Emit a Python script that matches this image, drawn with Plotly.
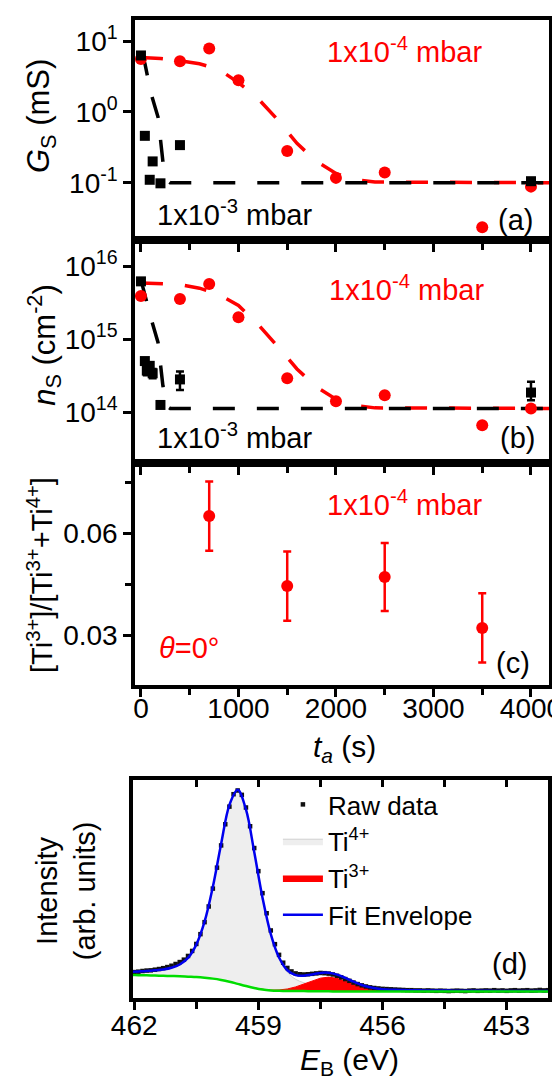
import plotly.graph_objects as go

FONT = "Liberation Sans, Arial, sans-serif"
RED = "#ff0000"

# ---- (a) sheet conductance G_S (mS) vs anneal time
t_hi = [0, 400, 700, 1000, 1500, 2000, 2500, 3500, 4000]          # 1x10^-4 mbar
gs_hi = [5.6, 5.2, 7.9, 2.8, 0.28, 0.117, 0.139, 0.0235, 0.088]
t_lo_a = [0, 40, 90, 120, 200, 400, 4000]                          # 1x10^-3 mbar
gs_lo = [6.3, 0.46, 0.11, 0.2, 0.098, 0.34, 0.105]
t_fit_hi = [0, 200, 400, 600, 800, 1000, 1200, 1400, 1600, 1800, 2000, 2200, 2400, 4200]
gs_fit_hi = [5.9, 5.7, 5.3, 4.8, 4.0, 2.6, 1.55, 0.78, 0.36, 0.2, 0.135, 0.11, 0.102, 0.1]
t_fit_lo = [0, 40, 100, 175, 225, 265, 300, 4200]
gs_fit_lo = [6.5, 4.9, 1.9, 0.85, 0.2, 0.11, 0.1, 0.1]

# ---- (b) carrier density n_S (cm^-2)
ns_hi = [3.9e15, 3.55e15, 5.7e15, 2.0e15, 2.9e14, 1.4e14, 1.7e14, 6.6e13, 1.12e14]
t_lo_b = [0, 40, 60, 90, 120, 200, 400, 4000]
ns_lo = [6.2e15, 5.0e14, 3.7e14, 4.3e14, 3.4e14, 1.25e14, 2.8e14, 1.85e14]
ns_lo_up = [0, 0.4e14, 0.5e14, 0.4e14, 0.5e14, 0.1e14, 0.8e14, 0.75e14]
ns_lo_dn = [0, 0.4e14, 0.5e14, 0.4e14, 0.5e14, 0.1e14, 0.8e14, 0.4e14]
ns_fit_hi = [5.9e15, 5.8e15, 5.6e15, 5.0e15, 4.1e15, 2.9e15, 1.6e15, 8e14, 3.9e14,
             2.2e14, 1.5e14, 1.22e14, 1.14e14, 1.12e14]
ns_fit_lo = [6.5e15, 4.0e15, 2.0e15, 9e14, 2.3e14, 1.2e14, 1.12e14, 1.12e14]

# ---- (c) Ti3+ fraction
t_c = [700, 1500, 2500, 3500]
ratio = [0.065, 0.0444, 0.0471, 0.0321]
ratio_err = [0.0102, 0.0102, 0.0100, 0.0102]

# ---- (d) Ti 2p3/2 XPS spectrum
e_fit = [462.1, 461.9, 461.7, 461.5, 461.3, 461.1, 460.9, 460.7, 460.5, 460.3,
         460.1, 459.9, 459.7, 459.5, 459.3, 459.1, 458.9, 458.7, 458.5, 458.3,
         458.1, 457.9, 457.7, 457.5, 457.3, 457.1, 456.9, 456.7, 456.5, 456.3,
         456.1, 455.9, 455.7, 455.5, 455.3, 455.1, 454.9, 454.7, 454.5, 454.3,
         454.1, 453.9, 453.7, 453.5, 453.3, 453.1, 452.9, 452.7, 452.5, 452.3,
         452.1, 451.9]
bg = [0.105, 0.105, 0.104, 0.103, 0.102, 0.101, 0.100, 0.098, 0.096, 0.093,
      0.089, 0.083, 0.075, 0.065, 0.055, 0.046, 0.039, 0.035, 0.033, 0.032,
      0.032, 0.032, 0.031, 0.031, 0.031, 0.030, 0.030, 0.030, 0.030, 0.030,
      0.030, 0.030, 0.030, 0.030, 0.030, 0.030, 0.030, 0.030, 0.030, 0.030,
      0.030, 0.030, 0.030, 0.030, 0.030, 0.030, 0.030, 0.030, 0.030, 0.030,
      0.030, 0.030]
ti4_top = [0.120, 0.122, 0.124, 0.127, 0.131, 0.139, 0.154, 0.184, 0.245, 0.350,
           0.510, 0.707, 0.885, 0.955, 0.865, 0.670, 0.460, 0.292, 0.182, 0.118,
           0.086, 0.070, 0.060, 0.055, 0.051, 0.047, 0.0445, 0.0426, 0.041, 0.0397,
           0.0387, 0.0378, 0.037, 0.0363, 0.0358, 0.0353, 0.0349, 0.0345, 0.0342, 0.0339,
           0.0336, 0.0334, 0.0332, 0.0330, 0.0328, 0.0326, 0.0325, 0.0324, 0.0322, 0.0321,
           0.0320, 0.0319]
envelope = [0.120, 0.122, 0.124, 0.127, 0.131, 0.139, 0.154, 0.184, 0.245, 0.350,
            0.510, 0.707, 0.885, 0.955, 0.865, 0.670, 0.4605, 0.2935, 0.186, 0.1275,
            0.105, 0.1025, 0.1078, 0.1152, 0.1159, 0.1071, 0.0923, 0.0751, 0.060, 0.0492,
            0.0428, 0.0393, 0.0375, 0.0363, 0.0358, 0.0353, 0.0349, 0.0345, 0.0342, 0.0339,
            0.0336, 0.0334, 0.0332, 0.0330, 0.0328, 0.0326, 0.0325, 0.0324, 0.0322, 0.0321,
            0.0320, 0.0319]
ti3_top = [0.046, 0.0395, 0.0365, 0.0371, 0.0415, 0.051, 0.0645, 0.0788, 0.0912, 0.096,
           0.0902, 0.0778, 0.0625, 0.049, 0.0395, 0.0341, 0.0315, 0.0305, 0.030]
ti3_start, ti3_end = 15, 34   # slice of e_fit covered by the Ti3+ component

e_raw = [462.0, 461.9, 461.8, 461.7, 461.6, 461.5, 461.4, 461.3, 461.2, 461.1,
         461.0, 460.9, 460.8, 460.7, 460.6, 460.5, 460.4, 460.3, 460.2, 460.1,
         460.0, 459.9, 459.8, 459.7, 459.6, 459.5, 459.4, 459.3, 459.2, 459.1,
         459.0, 458.9, 458.8, 458.7, 458.6, 458.5, 458.4, 458.3, 458.2, 458.1,
         458.0, 457.9, 457.8, 457.7, 457.6, 457.5, 457.4, 457.3, 457.2, 457.1,
         457.0, 456.9, 456.8, 456.7, 456.6, 456.5, 456.4, 456.3, 456.2, 456.1,
         456.0, 455.9, 455.8, 455.7, 455.6, 455.5, 455.4, 455.3, 455.2, 455.1,
         455.0, 454.9, 454.8, 454.7, 454.6, 454.5, 454.4, 454.3, 454.2, 454.1,
         454.0, 453.9, 453.8, 453.7, 453.6, 453.5, 453.4, 453.3, 453.2, 453.1,
         453.0, 452.9, 452.8, 452.7, 452.6, 452.5, 452.4, 452.3, 452.2, 452.1,
         452.0]
raw = [0.119, 0.121, 0.124, 0.126, 0.127, 0.130, 0.133, 0.137, 0.142, 0.148,
       0.156, 0.165, 0.176, 0.193, 0.216, 0.248, 0.293, 0.348, 0.420, 0.502,
       0.598, 0.700, 0.797, 0.878, 0.935, 0.952, 0.932, 0.874, 0.788, 0.688,
       0.582, 0.481, 0.389, 0.310, 0.247, 0.198, 0.162, 0.138, 0.122, 0.113,
       0.109, 0.108, 0.109, 0.111, 0.113, 0.115, 0.114, 0.112, 0.108, 0.102,
       0.095, 0.087, 0.079, 0.071, 0.064, 0.058, 0.053, 0.049, 0.046, 0.044,
       0.042, 0.041, 0.040, 0.039, 0.038, 0.037, 0.036, 0.036, 0.035, 0.035,
       0.034, 0.035, 0.034, 0.033, 0.034, 0.033, 0.032, 0.033, 0.034, 0.033,
       0.032, 0.034, 0.035, 0.033, 0.034, 0.035, 0.034, 0.036, 0.034, 0.035,
       0.033, 0.035, 0.036, 0.034, 0.035, 0.036, 0.034, 0.035, 0.037, 0.035,
       0.036]

dash = "22px,22px"
fig = go.Figure()

# panel a
fig.add_trace(go.Scatter(x=t_fit_hi, y=gs_fit_hi, mode="lines", line=dict(color=RED, width=3.5, dash=dash), xaxis="x", yaxis="y"))
fig.add_trace(go.Scatter(x=t_fit_lo, y=gs_fit_lo, mode="lines", line=dict(color="black", width=3.5, dash=dash), xaxis="x", yaxis="y"))
fig.add_trace(go.Scatter(x=t_hi, y=gs_hi, mode="markers", marker=dict(color=RED, size=12, symbol="circle"), xaxis="x", yaxis="y"))
fig.add_trace(go.Scatter(x=t_lo_a, y=gs_lo, mode="markers", marker=dict(color="black", size=10, symbol="square"), xaxis="x", yaxis="y"))

# panel b
fig.add_trace(go.Scatter(x=t_fit_hi, y=ns_fit_hi, mode="lines", line=dict(color=RED, width=3.5, dash=dash), xaxis="x2", yaxis="y2"))
fig.add_trace(go.Scatter(x=t_fit_lo, y=ns_fit_lo, mode="lines", line=dict(color="black", width=3.5, dash=dash), xaxis="x2", yaxis="y2"))
fig.add_trace(go.Scatter(x=t_hi, y=ns_hi, mode="markers", marker=dict(color=RED, size=12, symbol="circle"), xaxis="x2", yaxis="y2"))
fig.add_trace(go.Scatter(x=t_lo_b, y=ns_lo, mode="markers", marker=dict(color="black", size=10, symbol="square"),
                         error_y=dict(type="data", array=ns_lo_up, arrayminus=ns_lo_dn, color="black", thickness=2.5, width=4),
                         xaxis="x2", yaxis="y2"))

# panel c
fig.add_trace(go.Scatter(x=t_c, y=ratio, mode="markers", marker=dict(color=RED, size=12, symbol="circle"),
                         error_y=dict(type="data", array=ratio_err, color=RED, thickness=2.5, width=4),
                         xaxis="x3", yaxis="y3"))

# panel d
e3 = e_fit[ti3_start:ti3_end]
bg3 = bg[ti3_start:ti3_end]
fig.add_trace(go.Scatter(x=e_fit, y=bg, mode="lines", line=dict(width=0, shape="spline"), showlegend=False, xaxis="x4", yaxis="y4"))
fig.add_trace(go.Scatter(x=e_fit, y=ti4_top, mode="lines", fill="tonexty", fillcolor="#eeeeee",
                         line=dict(color="#d0d0d0", width=1, shape="spline"), name="Ti<sup>4+</sup>",
                         legendrank=2, xaxis="x4", yaxis="y4"))
fig.add_trace(go.Scatter(x=e3 + e3[::-1], y=ti3_top + bg3[::-1], mode="lines", fill="toself", fillcolor=RED,
                         line=dict(color=RED, width=1), name="Ti<sup>3+</sup>", legendrank=3, xaxis="x4", yaxis="y4"))
fig.add_trace(go.Scatter(x=e_raw, y=raw, mode="markers", marker=dict(color="#111111", size=4.5, symbol="square"),
                         name="Raw data", legendrank=1, xaxis="x4", yaxis="y4"))
fig.add_trace(go.Scatter(x=e_fit, y=envelope, mode="lines", line=dict(color="#0000ee", width=2.5, shape="spline"),
                         name="Fit Envelope", legendrank=4, xaxis="x4", yaxis="y4"))
fig.add_trace(go.Scatter(x=e_fit, y=bg, mode="lines", line=dict(color="#00dd00", width=2.5, shape="spline"),
                         showlegend=False, xaxis="x4", yaxis="y4"))
# carrier for the inward top ticks of panel d
fig.add_trace(go.Scatter(x=e_raw[:1], y=raw[:1], mode="none", showlegend=False, hoverinfo="skip", xaxis="x5", yaxis="y4"))

for tr in fig.data:
    if tr.name is None:
        tr.showlegend = False

tickfont = dict(family=FONT, size=28, color="black")
frame = dict(showline=True, linewidth=3.5, linecolor="black", mirror=True, showgrid=False,
             zeroline=False, automargin=False, tickfont=tickfont, tickcolor="black")
xd = [0.2268, 0.9661]


def time_axis(domain_y_anchor, labels):
    return dict(frame, domain=xd, anchor=domain_y_anchor, range=[-61, 4185],
                tickvals=[0, 1000, 2000, 3000, 4000], ticks="outside", ticklen=8, tickwidth=3,
                showticklabels=labels, ticklabelstandoff=-12,
                minor=dict(tickvals=[500, 1500, 2500, 3500], ticks="outside", ticklen=6,
                           tickwidth=3, tickcolor="black"))


fig.update_layout(
    width=560, height=1076, margin=dict(l=0, r=0, t=0, b=0),
    paper_bgcolor="white", plot_bgcolor="white", hovermode=False,
    font=dict(family=FONT, color="black"),
    xaxis=time_axis("y", False),
    xaxis2=time_axis("y2", False),
    xaxis3=time_axis("y3", True),
    yaxis=dict(frame, domain=[0.7844, 0.9888], anchor="x", type="log", range=[-1.81, 1.3],
               tickvals=[0.1, 1, 10], ticktext=["10<sup>-1</sup>", "10<sup>0</sup>", "10<sup>1</sup>"],
               ticks="outside", ticklen=8, tickwidth=3),
    yaxis2=dict(frame, domain=[0.5771, 0.7844], anchor="x2", type="log", range=[13.30, 16.36],
                tickvals=[1e14, 1e15, 1e16], ticktext=["10<sup>14</sup>", "10<sup>15</sup>", "10<sup>16</sup>"],
                ticks="outside", ticklen=8, tickwidth=3),
    yaxis3=dict(frame, domain=[0.3708, 0.5771], anchor="x3", range=[0.0153, 0.0806],
                tickvals=[0.03, 0.06], ticktext=["0.03", "0.06"], ticks="outside", ticklen=8, tickwidth=3,
                minor=dict(tickvals=[0.045, 0.075], ticks="outside", ticklen=6, tickwidth=3, tickcolor="black")),
    xaxis4=dict(frame, domain=[0.2232, 0.9643], anchor="y4", range=[462.03, 452.0],
                tickvals=[462, 459, 456, 453], ticks="outside", ticklen=8, tickwidth=3, ticklabelstandoff=-8,
                minor=dict(tickvals=[460.5, 457.5, 454.5], ticks="outside", ticklen=7, tickwidth=3, tickcolor="black")),
    xaxis5=dict(overlaying="x4", side="top", anchor="y4", range=[462.03, 452.0], showgrid=False, zeroline=False,
                showline=False, tickvals=[460.5, 459, 457.5, 456, 454.5, 453], ticks="inside", ticklen=7,
                tickwidth=3, tickcolor="black", showticklabels=False),
    yaxis4=dict(frame, domain=[0.0799, 0.2825], anchor="x4", range=[0, 1], showticklabels=False, ticks=""),
    legend=dict(x=0.482, y=0.2816, xanchor="left", yanchor="top", bgcolor="rgba(0,0,0,0)",
                traceorder="normal",
                font=dict(family=FONT, size=26, color="black"), itemwidth=40, tracegroupgap=0),
)

ann = []


def note(text, x, y, xref, yref, size=29, color="black", angle=0, xanchor="center"):
    ann.append(dict(text=text, x=x, y=y, xref=xref, yref=yref, showarrow=False, textangle=angle,
                    xanchor=xanchor, yanchor="middle", font=dict(family=FONT, size=size, color=color)))


# panel texts
note("1x10<sup>-4</sup> mbar", 0.65, 0.864, "x domain", "y domain", color=RED)
note("1x10<sup>-3</sup> mbar", 0.24, 0.123, "x domain", "y domain")
note("(a)", 0.92, 0.09, "x domain", "y domain")
note("1x10<sup>-4</sup> mbar", 0.655, 0.785, "x2 domain", "y2 domain", color=RED)
note("1x10<sup>-3</sup> mbar", 0.24, 0.121, "x2 domain", "y2 domain")
note("(b)", 0.925, 0.112, "x2 domain", "y2 domain")
note("1x10<sup>-4</sup> mbar", 0.652, 0.82, "x3 domain", "y3 domain", color=RED)
note("<i>θ</i>=0°", 0.13, 0.167, "x3 domain", "y3 domain", color=RED)
note("(c)", 0.913, 0.099, "x3 domain", "y3 domain")
note("(d)", 0.908, 0.156, "x4 domain", "y4 domain")

# axis titles
note("<i>G</i><sub>S</sub> (mS)", 0.059, 0.8996, "paper", "paper", size=31, angle=-90)
note("<i>n</i><sub>S</sub> (cm<sup>-2</sup>)", 0.064, 0.6868, "paper", "paper", size=31, angle=-90)
note("[Ti<sup>3+</sup>]/[Ti<sup>3+</sup>+Ti<sup>4+</sup>]", 0.057, 0.473, "paper", "paper", size=29, angle=-90)
note("Intensity<br>(arb. units)", 0.104, 0.1794, "paper", "paper", size=29, angle=-90)
note("<i>t</i><sub><i>a</i></sub> (s)", 0.6, 0.312, "paper", "paper", size=30)
note("<i>E</i><sub>B</sub> (eV)", 0.609, 0.0205, "paper", "paper", size=30)

fig.update_layout(annotations=ann)
fig.write_html("out.html")
